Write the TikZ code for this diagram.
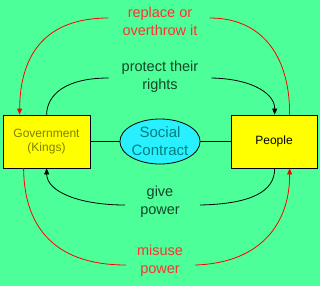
\documentclass[tikz,border=0pt]{standalone}
\usepackage{fontspec}
\setmainfont{Liberation Sans}
\usetikzlibrary{arrows.meta,shapes.geometric,calc}
\definecolor{bg}{RGB}{77,255,153}
\definecolor{boxy}{RGB}{255,255,0}
\definecolor{cyanf}{RGB}{40,240,255}
\definecolor{olivetxt}{RGB}{128,128,0}
\definecolor{tealtxt}{RGB}{0,128,128}
\definecolor{redtxt}{RGB}{255,50,50}
\definecolor{darktxt}{RGB}{20,70,40}
\tikzset{
  boxnode/.style={draw=black, line width=0.8pt, fill=boxy, minimum width=87pt, minimum height=53pt, align=center, font=\fontsize{12}{14}\selectfont, inner sep=0pt},
  ellnode/.style={ellipse, draw=black, line width=0.8pt, fill=cyanf, minimum width=80pt, minimum height=45pt, inner sep=0pt, align=center, text=tealtxt, font=\fontsize{15}{18}\selectfont},
  lbl/.style={align=center, font=\fontsize{14.5}{18}\selectfont, inner sep=0pt},
  redarc/.style={draw=red, line width=0.8pt},
  blkarc/.style={draw=black, line width=0.8pt},
  tip/.style={-{Triangle[length=6pt,width=5pt]}}
}
\begin{document}
\begin{tikzpicture}[x=1pt,y=-1pt]
\fill[bg] (0,0) rectangle (320,286);
\useasboundingbox (0,0) rectangle (320,286);
\node[boxnode, text=olivetxt] (gov) at (46.5,141.5) {Government\\(Kings)};
\node[boxnode, minimum width=86pt, text=black] (ppl) at (274,141.5) {People};
\node[ellnode] (sc) at (160,141.5) {Social\\Contract};
\draw[line width=0.8pt] (gov.east) -- (sc.west);
\draw[line width=0.8pt] (sc.east) -- (ppl.west);
\node[lbl, text=redtxt] (rep) at (160,21) {replace or\\overthrow it};
\node[lbl, text=darktxt] (pro) at (160,77) {protect their\\rights};
\node[lbl, text=darktxt] (giv) at (160,202) {give\\power};
\node[lbl, text=redtxt] (mis) at (160,261) {misuse\\power};
% top red
\draw[redarc, tip, color=red] ($(rep.west)+(-14,-3)$) .. controls (45,18) and (20,55) .. ($(gov.north west)+(17,0)$);
\draw[redarc] ($(rep.east)+(12,-3)$) .. controls (265,18) and (290,60) .. ($(ppl.north west)+(59,0)$);
% protect
\draw[blkarc] ($(pro.west)+(-13,1)$) .. controls (65,78) and (47,95) .. ($(gov.north west)+(44,0)$);
\draw[blkarc, tip] ($(pro.east)+(13,1)$) .. controls (255,79) and (275,95) .. ($(ppl.north west)+(44,0)$);
% give
\draw[blkarc, tip] ($(giv.west)+(-15,3)$) .. controls (80,205) and (47,192) .. ($(gov.south west)+(44,0)$);
\draw[blkarc] ($(giv.east)+(20,3)$) .. controls (250,204) and (275,192) .. ($(ppl.south west)+(44,0)$);
% misuse
\draw[redarc] ($(mis.west)+(-11,4)$) .. controls (50,265) and (24,222) .. ($(gov.south west)+(21,0)$);
\draw[redarc, tip, color=red] ($(mis.east)+(12,4)$) .. controls (262,263) and (290,222) .. ($(ppl.south west)+(59,0)$);
\end{tikzpicture}
\end{document}
